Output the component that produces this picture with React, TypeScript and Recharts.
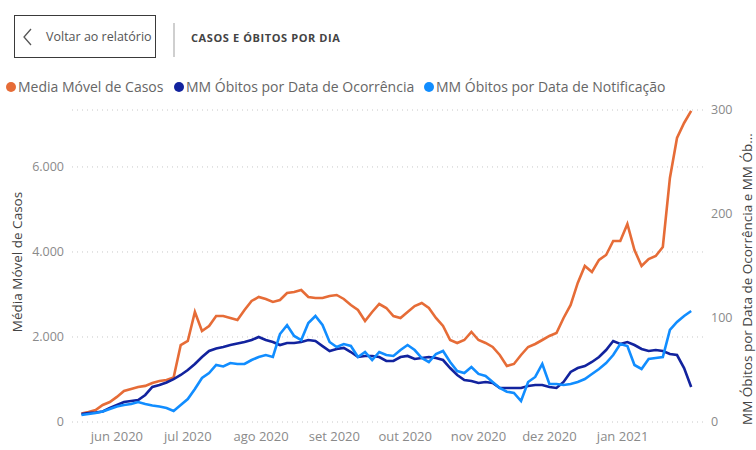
import React from 'react';
import { LineChart, Line, XAxis, YAxis, CartesianGrid } from 'recharts';

// day offsets from 17 May 2020, sampled every 3 days
const days = [
  0, 3, 6, 9, 12, 15, 18, 21, 24, 27, 30, 33, 36, 39, 42, 45, 48, 51, 54, 57,
  60, 63, 66, 69, 72, 75, 78, 81, 84, 87, 90, 93, 96, 99, 102, 105, 108, 111, 114, 117,
  120, 123, 126, 129, 132, 135, 138, 141, 144, 147, 150, 153, 156, 159, 162, 165, 168, 171, 174, 177,
  180, 183, 186, 189, 192, 195, 198, 201, 204, 207, 210, 213, 216, 219, 222, 225, 228, 231, 234, 237,
  240, 243, 246, 249, 252, 255, 258,
];

const mediaMovelCasos = [
  200, 235, 282, 400, 470, 590, 730, 776, 823, 850, 918, 965, 988, 1047, 1810, 1906, 2588, 2141, 2259, 2494,
  2494, 2447, 2400, 2635, 2847, 2941, 2894, 2824, 2870, 3035, 3059, 3106, 2941, 2918, 2918, 2965, 2988, 2894, 2753, 2635,
  2376, 2588, 2776, 2682, 2494, 2447, 2588, 2729, 2800, 2682, 2447, 2259, 1929, 1859, 1929, 2118, 1929, 1859, 1765, 1576,
  1318, 1365, 1576, 1765, 1835, 1929, 2024, 2094, 2447, 2753, 3271, 3671, 3529, 3812, 3929, 4259, 4259, 4659, 4047, 3671,
  3835, 3906, 4118, 5741, 6682, 7035, 7318,
];

const obitosOcorrencia = [
  7.7, 8.7, 9.1, 10.1, 13.5, 16.3, 19.2, 20.2, 21.2, 26, 33.7, 35.6, 38, 41.3, 45.2, 50, 55.8, 62.5, 68.3, 70.7,
  72.1, 74, 75.5, 76.9, 78.8, 81.7, 78.8, 76.9, 74, 76, 76, 76.9, 78.8, 77.9, 73, 68.3, 70.2, 71.2, 67.3, 62.5,
  63.5, 63.5, 62.5, 58.7, 58.7, 62.5, 63.5, 60.6, 61.5, 62.5, 61.5, 59.6, 51.9, 45.2, 40.4, 39.4, 37.5, 38.5, 37.5, 32.7,
  32.7, 32.7, 32.7, 34.6, 35.6, 35.6, 33.7, 32.7, 38.5, 48.1, 51.9, 53.8, 57.7, 62.5, 69.2, 77.9, 75, 76.9, 74, 70.2,
  68.3, 69.2, 68.3, 65.4, 64.4, 51.9, 33.7,
];

const obitosNotificacao = [
  6.7, 7.7, 8.7, 10.1, 12.5, 14.9, 16.3, 17.3, 19.2, 17.3, 15.9, 14.9, 13.5, 10.6, 16.3, 22.1, 31.7, 42.3, 47.1, 54.8,
  53.4, 56.7, 55.8, 55.8, 59.6, 62.5, 64.4, 62.5, 84.6, 93, 82.7, 78.8, 95.2, 101.9, 93.3, 76.9, 72.1, 75, 73.1, 62.5,
  67.3, 59.6, 67.3, 64.4, 63.5, 69.2, 74, 69.2, 61.5, 57.7, 65.4, 68.3, 57.7, 49, 47.1, 52.9, 46.2, 44.2, 38.5, 32.7,
  29.1, 27.9, 20.2, 38.5, 43.3, 55.8, 36.5, 36.5, 35.6, 36.5, 38.5, 41.3, 46.2, 51, 56.7, 64.4, 75, 73.1, 54.8, 51,
  60.6, 61.5, 62.5, 88.5, 96.2, 101.9, 106.7,
];

// month starts (day offsets) and their labels
const monthTicks = [15, 45, 76, 107, 137, 168, 198, 229];
const monthLabels = ['jun 2020', 'jul 2020', 'ago 2020', 'set 2020', 'out 2020', 'nov 2020', 'dez 2020', 'jan 2021'];

const leftTicks = [0, 2000, 4000, 6000];
const rightTicks = [0, 100, 200, 300];

const COLORS = {
  casos: '#E66C37',
  ocorrencia: '#12239E',
  notificacao: '#118DFF',
};

const legendItems = [
  { name: 'Media Móvel de Casos', color: COLORS.casos, left: 6 },
  { name: 'MM Óbitos por Data de Ocorrência', color: COLORS.ocorrencia, left: 174 },
  { name: 'MM Óbitos por Data de Notificação', color: COLORS.notificacao, left: 424 },
];

const FONT = '"Open Sans", "Noto Sans", sans-serif';

const formatThousands = (v: number) => String(v).replace(/\B(?=(\d{3})+(?!\d))/g, '.');

export default function App() {
  const data = days.map((d, i) => ({
    day: d,
    casos: mediaMovelCasos[i],
    ocorrencia: obitosOcorrencia[i],
    notificacao: obitosNotificacao[i],
  }));

  const tickStyle = { fill: '#8a8a8a', fontSize: 12.5, fontFamily: FONT };

  return (
    <div style={{ position: 'absolute', left: 0, top: 0, width: 756, height: 450, background: '#fff', fontFamily: FONT, overflow: 'hidden' }}>
      {/* back button */}
      <div
        style={{
          position: 'absolute', left: 14, top: 15, width: 140, height: 41,
          border: '1.5px solid #3a3a3a', boxSizing: 'content-box',
        }}
      >
        <svg width={14} height={20} style={{ position: 'absolute', left: 6, top: 11 }}>
          <polyline points="10,2 3,10 10,18" fill="none" stroke="#555" strokeWidth={1.3} />
        </svg>
        <span style={{ position: 'absolute', left: 31, top: 12, fontSize: 12.5, color: '#555' }}>Voltar ao relatório</span>
      </div>
      <div style={{ position: 'absolute', left: 173, top: 23, width: 1.5, height: 34, background: '#cfcfcf' }} />
      <div style={{ position: 'absolute', left: 191, top: 30, fontSize: 11, fontWeight: 700, color: '#444', letterSpacing: 0.6 }}>
        CASOS E ÓBITOS POR DIA
      </div>

      {/* legend */}
      {legendItems.map((item) => (
        <div
          key={item.name}
          style={{
            position: 'absolute', left: item.left, top: 77, display: 'flex', alignItems: 'center',
            fontSize: 14, color: '#666', whiteSpace: 'nowrap',
          }}
        >
          <span style={{ width: 10, height: 10, borderRadius: '50%', background: item.color, marginRight: 2, display: 'inline-block' }} />
          <span>{item.name}</span>
        </div>
      ))}

      {/* axis titles */}
      <div
        style={{
          position: 'absolute', left: 17, top: 262, transform: 'translate(-50%, -50%) rotate(-90deg)',
          fontSize: 13.5, color: '#444', whiteSpace: 'nowrap',
        }}
      >
        Média Móvel de Casos
      </div>
      <div
        style={{
          position: 'absolute', left: 747, top: 279, transform: 'translate(-50%, -50%) rotate(-90deg)',
          fontSize: 13.5, color: '#444', whiteSpace: 'nowrap',
        }}
      >
        MM Óbitos por Data de Ocorrência e MM Ób...
      </div>

      <div style={{ position: 'absolute', left: 0, top: 0 }}>
        <LineChart width={756} height={450} data={data} margin={{ top: 110, right: 0, bottom: 0, left: 0 }}>
          <CartesianGrid yAxisId="left" vertical={false} stroke="#c8c8c8" strokeDasharray="1 4" />
          <XAxis
            dataKey="day"
            type="number"
            domain={[-4, 263]}
            ticks={monthTicks}
            tickFormatter={(v: number) => monthLabels[monthTicks.indexOf(v)] ?? ''}
            axisLine={false}
            tickLine={false}
            tick={{ ...tickStyle, fontSize: 13 }}
            tickMargin={4}
            height={28}
          />
          <YAxis
            yAxisId="left"
            domain={[0, 7340]}
            ticks={leftTicks}
            tickFormatter={formatThousands}
            axisLine={false}
            tickLine={false}
            tick={tickStyle}
            width={72}
          />
          <YAxis
            yAxisId="right"
            orientation="right"
            domain={[0, 300]}
            ticks={rightTicks}
            axisLine={false}
            tickLine={false}
            tick={tickStyle}
            width={53}
          />
          <Line yAxisId="left" type="linear" dataKey="casos" stroke={COLORS.casos} strokeWidth={2.6} dot={false} isAnimationActive={false} />
          <Line yAxisId="right" type="linear" dataKey="ocorrencia" stroke={COLORS.ocorrencia} strokeWidth={2.6} dot={false} isAnimationActive={false} />
          <Line yAxisId="right" type="linear" dataKey="notificacao" stroke={COLORS.notificacao} strokeWidth={2.6} dot={false} isAnimationActive={false} />
        </LineChart>
      </div>
    </div>
  );
}
